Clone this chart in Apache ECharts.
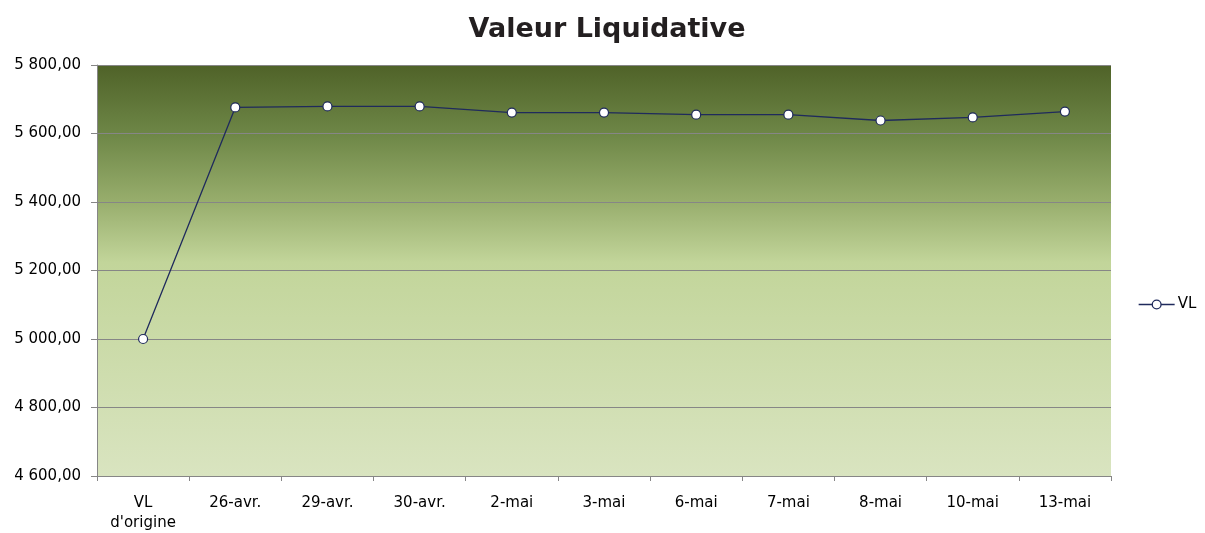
<!DOCTYPE html>
<html><head><meta charset="utf-8">
<script src="https://cdn.jsdelivr.net/npm/echarts@6/dist/echarts.min.js"></script>
<style>html,body{margin:0;padding:0;background:#fff}#c{width:1205px;height:533px}</style>
</head><body><div id="c"></div>
<script>
const categories = ["VL\nd'origine","26-avr.","29-avr.","30-avr.","2-mai","3-mai","6-mai","7-mai","8-mai","10-mai","13-mai"];
const vlValues = [5000, 5676, 5679, 5679, 5661, 5661, 5655, 5655, 5638, 5647, 5664];
const yTicks = {min: 4600, max: 5800, interval: 200};
const chart = echarts.init(document.getElementById('c'));
const fmt = v => { const s = v.toFixed(2).replace('.', ','); const [i,d] = s.split(','); return i.replace(/\B(?=(\d{3})+(?!\d))/g,' ') + ',' + d; };
chart.setOption({
  animation: false,
  textStyle: {fontFamily: 'DejaVu Sans'},
  title: {text: 'Valeur Liquidative', left: 602, top: 11, textAlign: 'center',
    textStyle: {fontSize: 27, fontWeight: 'bold', color: '#231f20', fontFamily: 'DejaVu Sans'}},
  legend: {orient: 'vertical', left: 1133, top: 292, itemWidth: 36, itemHeight: 11, itemGap: 0,
    data: ['VL'],
    lineStyle: {width: 1.3, color: '#1f2a5c'},
    itemStyle: {borderWidth: 1.3, borderColor: '#1f2a5c', color: '#ffffff'},
    textStyle: {fontSize: 15, color: '#000', fontFamily: 'DejaVu Sans', padding: [0,0,0,-2]}},
  grid: {left: 97, right: 94, top: 65, bottom: 57, containLabel: false,
    show: true, borderWidth: 0,
    backgroundColor: {type: 'linear', x: 0, y: 0, x2: 0, y2: 1, colorStops: [
      {offset: 0, color: '#4f6228'}, {offset: 0.17, color: '#6e8747'}, {offset: 0.33, color: '#97ad6c'},
      {offset: 0.48, color: '#c2d59a'}, {offset: 1, color: '#d9e4c0'}]}},
  xAxis: {type: 'category', data: categories, boundaryGap: true,
    axisLine: {show: true, lineStyle: {color: '#868686'}},
    axisTick: {show: true, length: 5, lineStyle: {color: '#868686'}},
    axisLabel: {fontSize: 15, color: '#000', margin: 17, lineHeight: 20, interval: 0}},
  yAxis: {type: 'value', min: yTicks.min, max: yTicks.max, interval: yTicks.interval,
    axisLine: {show: true, lineStyle: {color: '#868686'}},
    axisTick: {show: true, length: 6, lineStyle: {color: '#868686'}},
    splitLine: {show: true, lineStyle: {color: '#868686', width: 1}},
    axisLabel: {fontSize: 15, color: '#000', margin: 16, formatter: fmt}},
  series: [{name: 'VL', type: 'line', data: vlValues, symbol: 'circle', symbolSize: 9,
    lineStyle: {color: '#1f2a5c', width: 1.3},
    itemStyle: {color: '#ffffff', borderColor: '#1f2a5c', borderWidth: 1.2}}]
});
</script></body></html>
